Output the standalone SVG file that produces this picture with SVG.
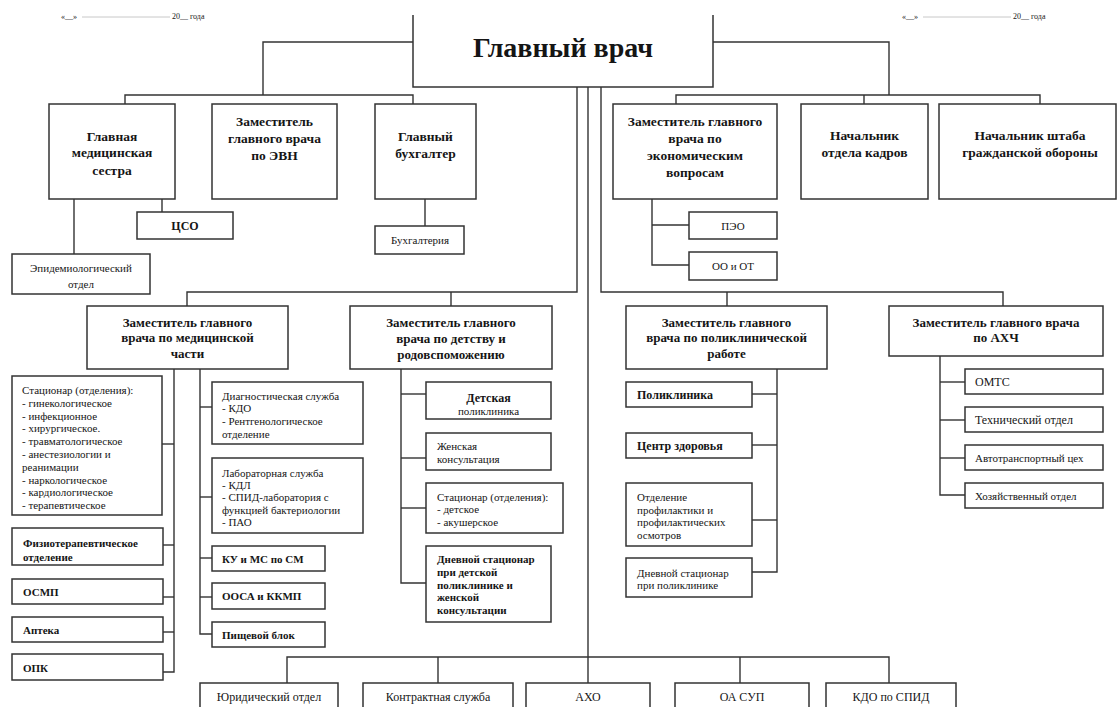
<svg xmlns="http://www.w3.org/2000/svg" width="1118" height="707" viewBox="0 0 1118 707" font-family="'Liberation Serif', 'DejaVu Serif', serif">
<style>
.bx{fill:#fff;stroke:#333;stroke-width:1.5}
.ln{fill:none;stroke:#333;stroke-width:1.4}
text, tspan{font-family:"Liberation Serif","DejaVu Serif",serif}
text{fill:#151515}
.h{font-size:13.5px;font-weight:bold;text-anchor:middle}
.hm{font-size:13px;font-weight:bold;text-anchor:middle}
.s{font-size:11px}
.sb{font-size:11px;font-weight:bold}
.m{font-size:12px}
.mb{font-size:12px;font-weight:bold}
.c{text-anchor:middle}
.faint{fill:#b8b8b8;font-size:8px}
</style>
<rect width="1118" height="707" fill="#fff"/>
<g id="header" class="faint">
<text x="61" y="19">«__»</text><line x1="82" y1="17" x2="170" y2="17" stroke="#c8c8c8" stroke-width="1"/><text x="172" y="19">20__ года</text>
<text x="902" y="19">«__»</text><line x1="923" y1="17" x2="1011" y2="17" stroke="#c8c8c8" stroke-width="1"/><text x="1013" y="19">20__ года</text>
</g>
<g id="connectors" class="ln">
<path d="M413,42 H263 V95"/>
<path d="M125,104 V95 H413 V104"/>
<path d="M713,42 H889 V95"/>
<path d="M676,104 V95 H1040 V104"/>
<path d="M864,95 V104"/>
<path d="M577,87 V292 H187 V306"/>
<path d="M451,292 V306"/>
<path d="M601,87 V292 H1003 V306"/>
<path d="M727,292 V306"/>
<path d="M588,87 V657"/>
<path d="M287,683 V657 H889 V683"/>
<path d="M438,657 V683"/>
<path d="M588,657 V683"/>
<path d="M740,657 V683"/>
<path d="M162,199 V212"/>
<path d="M74,199 V254"/>
<path d="M425,199 V226"/>
<path d="M652,199 V265 H689"/>
<path d="M652,225 H689"/>
<path d="M174,369 V672 H163"/>
<path d="M174,444 H162"/>
<path d="M174,545 H163"/>
<path d="M174,597 H163"/>
<path d="M174,632 H163"/>
<path d="M200,369 V634 H212"/>
<path d="M200,407 H212"/>
<path d="M200,497 H212"/>
<path d="M200,558 H212"/>
<path d="M200,597 H212"/>
<path d="M401,369 V583 H426"/>
<path d="M401,394 H426"/>
<path d="M401,458 H426"/>
<path d="M401,508 H426"/>
<path d="M777,369 V572 H752"/>
<path d="M777,394 H752"/>
<path d="M777,445 H752"/>
<path d="M777,520 H752"/>
<path d="M940,356 V495 H965"/>
<path d="M940,382 H965"/>
<path d="M940,420 H965"/>
<path d="M940,458 H965"/>
</g>
<g id="main"><path d="M413,15 V87 H713 V15" class="ln" style="stroke-width:1.5"/><text x="563" y="57" style="font-size:28px;font-weight:bold;text-anchor:middle">Главный врач</text></g>
<g id="gms"><rect class="bx" x="49" y="104" width="126" height="95"/><text class="h"><tspan x="112" y="141">Главная</tspan><tspan x="112" y="157">медицинская</tspan><tspan x="112" y="175">сестра</tspan></text></g>
<g id="evn"><rect class="bx" x="212" y="104" width="125" height="95"/><text class="h"><tspan x="274.5" y="126">Заместитель</tspan><tspan x="274.5" y="143">главного врача</tspan><tspan x="274.5" y="160">по ЭВН</tspan></text></g>
<g id="buh"><rect class="bx" x="375" y="104" width="101" height="95"/><text class="h"><tspan x="425.5" y="141">Главный</tspan><tspan x="425.5" y="158">бухгалтер</tspan></text></g>
<g id="cso"><rect class="bx" x="137" y="212" width="96" height="27"/><text class="mb c" x="185" y="230">ЦСО</text></g>
<g id="buhg"><rect class="bx" x="375" y="226" width="89" height="28"/><text class="s c" x="420" y="244">Бухгалтерия</text></g>
<g id="epid"><rect class="bx" x="12" y="254" width="138" height="40"/><text class="s c"><tspan x="81" y="272">Эпидемиологический</tspan><tspan x="81" y="288">отдел</tspan></text></g>
<g id="econ"><rect class="bx" x="613" y="104" width="164" height="95"/><text class="h"><tspan x="695" y="126">Заместитель главного</tspan><tspan x="695" y="143">врача по</tspan><tspan x="695" y="160">экономическим</tspan><tspan x="695" y="177">вопросам</tspan></text></g>
<g id="kadry"><rect class="bx" x="801" y="104" width="127" height="95"/><text class="h"><tspan x="864.5" y="140">Начальник</tspan><tspan x="864.5" y="157">отдела кадров</tspan></text></g>
<g id="go"><rect class="bx" x="939" y="104" width="177" height="95"/><text class="h"><tspan x="1030" y="140">Начальник штаба</tspan><tspan x="1030" y="157">гражданской обороны</tspan></text></g>
<g id="peo"><rect class="bx" x="689" y="212" width="88" height="27"/><text class="s c" x="733" y="230">ПЭО</text></g>
<g id="oo"><rect class="bx" x="689" y="252" width="88" height="28"/><text class="s c" x="733" y="270">ОО и ОТ</text></g>
<g id="med"><rect class="bx" x="87" y="306" width="201" height="63"/><text class="hm"><tspan x="187.5" y="327">Заместитель  главного</tspan><tspan x="187.5" y="342">врача по медицинской</tspan><tspan x="187.5" y="358">части</tspan></text></g>
<g id="det"><rect class="bx" x="350" y="306" width="202" height="63"/><text class="hm"><tspan x="451" y="327">Заместитель главного</tspan><tspan x="451" y="343">врача по детству и</tspan><tspan x="451" y="359">родовспоможению</tspan></text></g>
<g id="pol"><rect class="bx" x="626" y="306" width="201" height="63"/><text class="hm"><tspan x="726.5" y="327">Заместитель  главного</tspan><tspan x="726.5" y="342">врача по поликлинической</tspan><tspan x="726.5" y="358">работе</tspan></text></g>
<g id="ahch"><rect class="bx" x="889" y="306" width="214" height="50"/><text class="hm"><tspan x="996" y="327">Заместитель главного врача</tspan><tspan x="996" y="342">по АХЧ</tspan></text></g>
<g id="stac"><rect class="bx" x="12" y="376" width="150" height="139"/><text class="s"><tspan x="22" y="394">Стационар (отделения):</tspan><tspan x="22" y="407">- гинекологическое</tspan><tspan x="22" y="420">- инфекционное</tspan><tspan x="22" y="432">- хирургическое.</tspan><tspan x="22" y="445">- травматологическое</tspan><tspan x="22" y="458">-  анестезиологии и</tspan><tspan x="22" y="471">реанимации</tspan><tspan x="22" y="484">- наркологическое</tspan><tspan x="22" y="496">- кардиологическое</tspan><tspan x="22" y="509">- терапевтическое</tspan></text></g>
<g id="fizio"><rect class="bx" x="12" y="528" width="151" height="37"/><text class="sb"><tspan x="23" y="547">Физиотерапевтическое</tspan><tspan x="23" y="561">отделение</tspan></text></g>
<g id="osmp"><rect class="bx" x="12" y="579" width="151" height="25"/><text class="sb" x="23" y="596">ОСМП</text></g>
<g id="apt"><rect class="bx" x="12" y="617" width="151" height="25"/><text class="sb" x="23" y="634">Аптека</text></g>
<g id="opk"><rect class="bx" x="12" y="654" width="151" height="26"/><text class="sb" x="23" y="672">ОПК</text></g>
<g id="diag"><rect class="bx" x="212" y="382" width="151" height="62"/><text class="s"><tspan x="222" y="400">Диагностическая служба</tspan><tspan x="222" y="412">- КДО</tspan><tspan x="222" y="425">- Рентгенологическое</tspan><tspan x="222" y="438">отделение</tspan></text></g>
<g id="lab"><rect class="bx" x="212" y="458" width="151" height="75"/><text class="s"><tspan x="222" y="477">Лабораторная служба</tspan><tspan x="222" y="489">- КДЛ</tspan><tspan x="222" y="501">- СПИД-лаборатория с</tspan><tspan x="222" y="514">функцией бактериологии</tspan><tspan x="222" y="526">- ПАО</tspan></text></g>
<g id="ku"><rect class="bx" x="212" y="546" width="113" height="25"/><text class="sb" x="222" y="563">КУ и МС по СМ</text></g>
<g id="oosa"><rect class="bx" x="212" y="583" width="113" height="26"/><text class="sb" x="222" y="600">ООСА и ККМП</text></g>
<g id="pish"><rect class="bx" x="212" y="622" width="113" height="25"/><text class="sb" x="222" y="639">Пищевой блок</text></g>
<g id="dpol"><rect class="bx" x="426" y="382" width="125" height="37"/><text class="c"><tspan class="mb" x="488.5" y="402">Детская</tspan><tspan class="s" x="488.5" y="415">поликлиника</tspan></text></g>
<g id="zhk"><rect class="bx" x="426" y="433" width="125" height="37"/><text class="s"><tspan x="437" y="450">Женская</tspan><tspan x="437" y="463">консультация</tspan></text></g>
<g id="dstac"><rect class="bx" x="426" y="483" width="137" height="50"/><text class="s"><tspan x="437" y="501">Стационар (отделения):</tspan><tspan x="437" y="513">- детское</tspan><tspan x="437" y="526">- акушерское</tspan></text></g>
<g id="dnev"><rect class="bx" x="426" y="546" width="125" height="76"/><text class="sb"><tspan x="437" y="563">Дневной стационар</tspan><tspan x="437" y="576">при детской</tspan><tspan x="437" y="589">поликлинике и</tspan><tspan x="437" y="601">женской</tspan><tspan x="437" y="614">консультации</tspan></text></g>
<g id="polk"><rect class="bx" x="626" y="382" width="126" height="25"/><text class="mb" x="637" y="399">Поликлиника</text></g>
<g id="cz"><rect class="bx" x="626" y="433" width="126" height="25"/><text class="mb" x="637" y="450">Центр здоровья</text></g>
<g id="prof"><rect class="bx" x="626" y="483" width="126" height="63"/><text class="s"><tspan x="637" y="501">Отделение</tspan><tspan x="637" y="514">профилактики и</tspan><tspan x="637" y="526">профилактических</tspan><tspan x="637" y="539">осмотров</tspan></text></g>
<g id="dnevp"><rect class="bx" x="626" y="558" width="126" height="39"/><text class="s"><tspan x="637" y="577">Дневной стационар</tspan><tspan x="637" y="589">при поликлинике</tspan></text></g>
<g id="omts"><rect class="bx" x="965" y="369" width="138" height="25"/><text class="m" x="975" y="386">ОМТС</text></g>
<g id="tech"><rect class="bx" x="965" y="407" width="138" height="25"/><text class="m" x="975" y="424">Технический  отдел</text></g>
<g id="avto"><rect class="bx" x="965" y="445" width="138" height="25"/><text class="s" x="975" y="462">Автотранспортный цех</text></g>
<g id="hoz"><rect class="bx" x="965" y="483" width="138" height="25"/><text class="s" x="975" y="500">Хозяйственный отдел</text></g>
<g id="yur"><rect class="bx" x="200" y="683" width="138" height="40"/><text class="m c" x="269" y="701">Юридический отдел</text></g>
<g id="kontr"><rect class="bx" x="363" y="683" width="150" height="40"/><text class="m c" x="438" y="701">Контрактная служба</text></g>
<g id="aho"><rect class="bx" x="526" y="683" width="124" height="40"/><text class="m c" x="588" y="701">АХО</text></g>
<g id="oasup"><rect class="bx" x="675" y="683" width="134" height="40"/><text class="m c" x="742" y="701">ОА СУП</text></g>
<g id="kdo"><rect class="bx" x="826" y="683" width="130" height="40"/><text class="m c" x="891" y="701">КДО по СПИД</text></g>
</svg>
